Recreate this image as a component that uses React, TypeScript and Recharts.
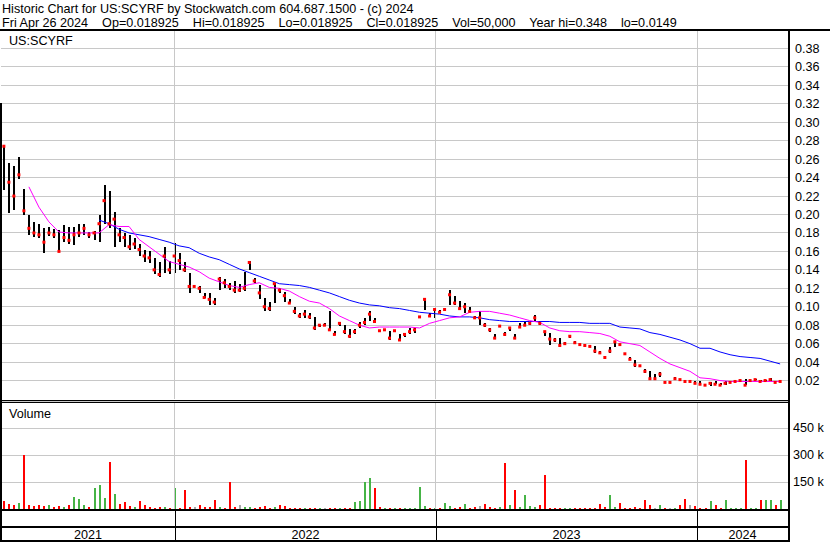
import React from "react";
import { ComposedChart, Bar, Line, XAxis, YAxis, CartesianGrid, Cell, ReferenceLine } from "recharts";

// weekly samples (Fridays), day 0 = Mon 2021-05-03
const FIRST_DAY = 4;
const DAY_MAX = 1100;
const yearStarts = [243, 608, 973];
const yearLabels = ["2021", "2022", "2023", "2024"];

const closes = [
  0.274, 0.235, 0.22, 0.243, 0.204, 0.185, 0.18, 0.178, 0.17, 0.18,
  0.178, 0.16, 0.175, 0.172, 0.178, 0.18, 0.185, 0.178, 0.18, 0.19,
  0.215, 0.19, 0.195, 0.178, 0.175, 0.165, 0.168, 0.162, 0.155, 0.153,
  0.14, 0.135, 0.155, 0.14, 0.155, 0.15, 0.14, 0.122, 0.122, 0.12,
  0.11, 0.108, 0.105, 0.13, 0.126, 0.122, 0.118, 0.118, 0.12, 0.148,
  0.128, 0.115, 0.1, 0.098, 0.125, 0.118, 0.112, 0.104, 0.095, 0.09,
  0.092, 0.089, 0.077, 0.08, 0.08, 0.075, 0.07, 0.082, 0.073, 0.068,
  0.073, 0.08, 0.083, 0.092, 0.084, 0.074, 0.075, 0.066, 0.074, 0.064,
  0.07, 0.073, 0.075, 0.089, 0.108, 0.09, 0.097, 0.094, 0.097, 0.113,
  0.104, 0.098, 0.1, 0.095, 0.088, 0.088, 0.08, 0.075, 0.066, 0.079,
  0.07, 0.077, 0.066, 0.078, 0.08, 0.082, 0.088, 0.082, 0.073, 0.065,
  0.064, 0.058, 0.06, 0.068, 0.061, 0.059, 0.058, 0.057, 0.052, 0.05,
  0.045, 0.052, 0.062, 0.059, 0.049, 0.043, 0.037, 0.036, 0.03, 0.022,
  0.022, 0.027, 0.018, 0.018, 0.022, 0.021, 0.019, 0.019, 0.017, 0.016,
  0.015, 0.017, 0.016, 0.015, 0.017, 0.018, 0.019, 0.02, 0.015, 0.02,
  0.021, 0.019, 0.02, 0.021, 0.018, 0.019,
];

const highs = [
  0.275, 0.256, 0.253, 0.262, 0.228, 0.2, 0.192, 0.19, 0.185, 0.186,
  0.184, 0.183, 0.189, 0.186, 0.186, 0.19, 0.19, 0.181, 0.182, 0.2,
  0.232, 0.225, 0.203, 0.185, 0.18, 0.178, 0.175, 0.168, 0.162, 0.16,
  0.153, 0.148, 0.165, 0.15, 0.169, 0.158, 0.148, 0.137, 0.122, 0.123,
  0.115, 0.115, 0.11, 0.132, 0.13, 0.126, 0.128, 0.125, 0.138, 0.15,
  0.131, 0.124, 0.11, 0.105, 0.126, 0.12, 0.116, 0.108, 0.1, 0.093,
  0.096, 0.093, 0.089, 0.08, 0.082, 0.095, 0.074, 0.084, 0.08, 0.076,
  0.076, 0.084, 0.088, 0.095, 0.088, 0.074, 0.075, 0.074, 0.074, 0.07,
  0.072, 0.077, 0.077, 0.089, 0.11, 0.093, 0.097, 0.097, 0.097, 0.118,
  0.112, 0.106, 0.104, 0.1, 0.09, 0.095, 0.082, 0.077, 0.07, 0.08,
  0.073, 0.078, 0.07, 0.082, 0.084, 0.084, 0.091, 0.085, 0.074, 0.072,
  0.066, 0.066, 0.062, 0.068, 0.063, 0.06, 0.059, 0.058, 0.057, 0.052,
  0.047, 0.056, 0.063, 0.06, 0.05, 0.046, 0.042, 0.037, 0.032, 0.03,
  0.027, 0.029, 0.018, 0.018, 0.024, 0.022, 0.021, 0.02, 0.019, 0.019,
  0.015, 0.018, 0.019, 0.017, 0.02, 0.018, 0.019, 0.02, 0.022, 0.02,
  0.022, 0.021, 0.021, 0.023, 0.02, 0.019,
];

const lows = [
  0.227, 0.202, 0.205, 0.238, 0.2, 0.178, 0.176, 0.175, 0.158, 0.177,
  0.175, 0.159, 0.17, 0.168, 0.167, 0.176, 0.178, 0.175, 0.172, 0.17,
  0.19, 0.185, 0.165, 0.17, 0.165, 0.162, 0.163, 0.155, 0.148, 0.147,
  0.135, 0.132, 0.137, 0.135, 0.137, 0.14, 0.138, 0.115, 0.122, 0.115,
  0.11, 0.102, 0.102, 0.118, 0.12, 0.118, 0.115, 0.116, 0.117, 0.14,
  0.126, 0.108, 0.095, 0.095, 0.104, 0.115, 0.105, 0.104, 0.092, 0.088,
  0.088, 0.087, 0.075, 0.078, 0.079, 0.075, 0.069, 0.079, 0.071, 0.066,
  0.071, 0.077, 0.08, 0.085, 0.082, 0.074, 0.075, 0.064, 0.073, 0.064,
  0.067, 0.07, 0.072, 0.088, 0.097, 0.089, 0.088, 0.094, 0.095, 0.102,
  0.102, 0.098, 0.093, 0.094, 0.087, 0.08, 0.078, 0.073, 0.066, 0.078,
  0.068, 0.074, 0.066, 0.077, 0.079, 0.08, 0.084, 0.08, 0.068, 0.059,
  0.062, 0.056, 0.058, 0.066, 0.06, 0.058, 0.057, 0.057, 0.05, 0.05,
  0.045, 0.05, 0.056, 0.057, 0.049, 0.043, 0.035, 0.035, 0.028, 0.021,
  0.021, 0.024, 0.018, 0.018, 0.021, 0.02, 0.018, 0.019, 0.016, 0.015,
  0.015, 0.014, 0.016, 0.015, 0.015, 0.018, 0.019, 0.02, 0.015, 0.02,
  0.021, 0.019, 0.019, 0.019, 0.018, 0.019,
];

// thousands of shares
const volumesK = [
  45, 30, 25, 35, 300, 20, 15, 20, 15, 25,
  12, 18, 10, 20, 65, 55, 25, 12, 114, 133,
  60, 260, 84, 30, 40, 15, 12, 45, 20, 10,
  8, 12, 10, 5, 118, 8, 108, 10, 12, 25,
  10, 10, 48, 12, 8, 152, 12, 22, 10, 12,
  6, 10, 15, 6, 10, 20, 18, 6, 4, 4,
  4, 6, 5, 4, 6, 8, 4, 6, 4, 8,
  40, 45, 152, 171, 118, 10, 4, 6, 8, 6,
  4, 4, 4, 125, 15, 8, 6, 6, 35, 15,
  8, 12, 30, 8, 10, 15, 30, 12, 8, 12,
  256, 20, 103, 10, 80, 15, 12, 20, 188, 6,
  5, 4, 6, 5, 8, 4, 4, 6, 4, 30,
  12, 80, 10, 35, 5, 4, 10, 6, 51, 20,
  8, 20, 6, 4, 8, 20, 57, 25, 15, 5,
  4, 46, 25, 6, 50, 4, 4, 6, 274, 5,
  5, 51, 50, 50, 20, 50,
];

// short average (magenta), every second week starting at week 5
const MA_SHORT_START = 5;
const maShort = [
  0.23, 0.208, 0.192, 0.181, 0.18, 0.18, 0.18, 0.18, 0.189, 0.187,
  0.187, 0.173, 0.165, 0.157, 0.149, 0.146, 0.143, 0.138, 0.131, 0.127,
  0.123, 0.121, 0.124, 0.126, 0.121, 0.12, 0.117, 0.111, 0.106, 0.104,
  0.098, 0.09, 0.085, 0.08, 0.077, 0.078, 0.078, 0.078, 0.078, 0.077,
  0.082, 0.085, 0.088, 0.089, 0.094, 0.095, 0.095, 0.093, 0.091, 0.088,
  0.085, 0.083, 0.077, 0.074, 0.073, 0.073, 0.072, 0.071, 0.068, 0.062,
  0.06, 0.058, 0.051, 0.044, 0.038, 0.034, 0.03, 0.023, 0.022, 0.02,
  0.019, 0.019, 0.019, 0.019, 0.019, 0.019,
];

// long average (blue), every second week starting at week 19
const MA_LONG_START = 19;
const maLong = [
  0.194, 0.19, 0.184, 0.18, 0.178, 0.176, 0.173, 0.17, 0.166, 0.164,
  0.158, 0.154, 0.151, 0.146, 0.141, 0.137, 0.133, 0.129, 0.125, 0.124,
  0.123, 0.121, 0.118, 0.115, 0.111, 0.107, 0.104, 0.102, 0.101, 0.099,
  0.098, 0.096, 0.094, 0.093, 0.092, 0.09, 0.089, 0.089, 0.088, 0.086,
  0.085, 0.084, 0.084, 0.084, 0.084, 0.084, 0.083, 0.083, 0.083, 0.082,
  0.082, 0.082, 0.078, 0.077, 0.076, 0.072, 0.07, 0.067, 0.064, 0.06,
  0.055, 0.055, 0.051, 0.048, 0.046, 0.045, 0.044, 0.041, 0.038,
];

const priceTicks = [
  0.02, 0.04, 0.06, 0.08, 0.1, 0.12, 0.14, 0.16, 0.18, 0.2,
  0.22, 0.24, 0.26, 0.28, 0.3, 0.32, 0.34, 0.36, 0.38,
];
const volumeTicks = [150000, 300000, 450000];

const W = 830;
const H = 543;
const PLOT_LEFT = 1;
const PLOT_RIGHT = 788;
const FONT = '"Liberation Sans", Arial, sans-serif';
const FS = 12.6;
const GRID = "#c8c8c8";

const weekDay = (i: number) => FIRST_DAY + 7 * i;
const dayToX = (d: number) => PLOT_LEFT + (d / DAY_MAX) * (PLOT_RIGHT - PLOT_LEFT);

const bars = closes.map((c, i) => ({
  d: weekDay(i),
  close: c,
  range: [lows[i], highs[i]],
  vol: volumesK[i] * 1000,
  dir: i === 0 ? -1 : Math.sign(c - closes[i - 1]),
}));
const maShortData = maShort.map((v, k) => ({ d: weekDay(MA_SHORT_START + 2 * k), v }));
const maLongData = maLong.map((v, k) => ({ d: weekDay(MA_LONG_START + 2 * k), v }));

const volColor = (dir: number) => (dir > 0 ? "#46b446" : dir < 0 ? "#ff0000" : "#a8a8a8");

function CloseMark(props: any) {
  const { cx, cy, index } = props;
  if (cx == null || cy == null) return null;
  return <rect key={`c${index}`} x={cx - 1.5} y={cy - 1.5} width={3} height={3} fill="#ff0000" />;
}

const axisTick = { fontSize: FS, fill: "#000", fontFamily: FONT };

export default function App() {
  const yearBounds = [0, ...yearStarts, DAY_MAX];
  return (
    <div style={{ position: "absolute", left: 0, top: 0, width: W, height: H, background: "#fff", overflow: "hidden" }}>
      <style>{`.recharts-cartesian-grid line, .recharts-reference-line line, .recharts-bar-rectangle path { shape-rendering: crispEdges; }`}</style>

      <div style={{ position: "absolute", left: 0, top: 0 }}>
        <ComposedChart width={W} height={399} data={bars} margin={{ top: 30, right: 0, bottom: 0, left: PLOT_LEFT }}>
          <CartesianGrid stroke={GRID} vertical={false} />
          <XAxis type="number" dataKey="d" domain={[0, DAY_MAX]} hide allowDataOverflow />
          <YAxis orientation="right" width={W - PLOT_RIGHT} domain={[0, 0.4]} ticks={priceTicks} interval={0}
            tickFormatter={(v: number) => v.toFixed(2)} tick={axisTick} tickSize={0} tickMargin={7}
            axisLine={false} tickLine={false} allowDataOverflow />
          {yearStarts.map((d) => (
            <ReferenceLine key={d} x={d} stroke={GRID} />
          ))}
          <Bar dataKey="range" barSize={2} fill="#000" isAnimationActive={false} />
          <Line data={maLongData} dataKey="v" stroke="#0000ff" strokeWidth={1} dot={false}
            activeDot={false} isAnimationActive={false} />
          <Line data={maShortData} dataKey="v" stroke="#ff00ff" strokeWidth={1} dot={false}
            activeDot={false} isAnimationActive={false} />
          <Line dataKey="close" stroke="none" dot={<CloseMark />} activeDot={false} isAnimationActive={false} />
        </ComposedChart>
      </div>

      <div style={{ position: "absolute", left: 0, top: 401 }}>
        <ComposedChart width={W} height={108} data={bars} margin={{ top: 0, right: 0, bottom: 0, left: PLOT_LEFT }}>
          <CartesianGrid stroke={GRID} vertical={false} />
          <XAxis type="number" dataKey="d" domain={[0, DAY_MAX]} hide allowDataOverflow />
          <YAxis orientation="right" width={W - PLOT_RIGHT} domain={[0, 600000]} ticks={volumeTicks} interval={0}
            tickFormatter={(v: number) => `${v / 1000} k`} tick={axisTick} tickSize={0} tickMargin={5}
            axisLine={false} tickLine={false} allowDataOverflow />
          {yearStarts.map((d) => (
            <ReferenceLine key={d} x={d} stroke={GRID} />
          ))}
          <Bar dataKey="vol" barSize={2} isAnimationActive={false}>
            {bars.map((b, i) => (
              <Cell key={i} fill={volColor(b.dir)} />
            ))}
          </Bar>
        </ComposedChart>
      </div>

      <svg width={W} height={H} style={{ position: "absolute", left: 0, top: 0, pointerEvents: "none" }}
        fontFamily={FONT} fontSize={FS}>
        <text x={2} y={13.3} fill="#000" style={{ whiteSpace: "pre" }}>
          Historic Chart for US:SCYRF by Stockwatch.com 604.687.1500 - (c) 2024
        </text>
        <text x={2} y={27.3} fill="#000" style={{ whiteSpace: "pre" }}>
          {"Fri Apr 26 2024    Op=0.018925    Hi=0.018925    Lo=0.018925    Cl=0.018925    Vol=50,000    Year hi=0.348    lo=0.0149"}
        </text>
        <text x={9} y={45} fill="#000">US:SCYRF</text>
        <text x={9} y={417.7} fill="#000">Volume</text>

        <rect x={0} y={29} width={W} height={2} fill="#000" />
        <rect x={0} y={103} width={2} height={439} fill="#000" />
        <rect x={PLOT_RIGHT} y={29} width={2} height={513} fill="#000" />
        <rect x={0} y={400} width={PLOT_RIGHT} height={1} fill="#000" />
        <rect x={0} y={402} width={PLOT_RIGHT} height={1} fill="#000" />
        <rect x={0} y={509} width={PLOT_RIGHT} height={2} fill="#000" />
        <rect x={0} y={526} width={PLOT_RIGHT} height={2} fill="#000" />
        <rect x={0} y={540} width={PLOT_RIGHT} height={2} fill="#000" />
        {yearStarts.map((d) => (
          <rect key={d} x={Math.round(dayToX(d))} y={511} width={1} height={29} fill="#000" />
        ))}
        {yearLabels.map((label, k) => (
          <text key={label} x={dayToX((yearBounds[k] + yearBounds[k + 1]) / 2)} y={539} textAnchor="middle" fill="#000">
            {label}
          </text>
        ))}
      </svg>
    </div>
  );
}
